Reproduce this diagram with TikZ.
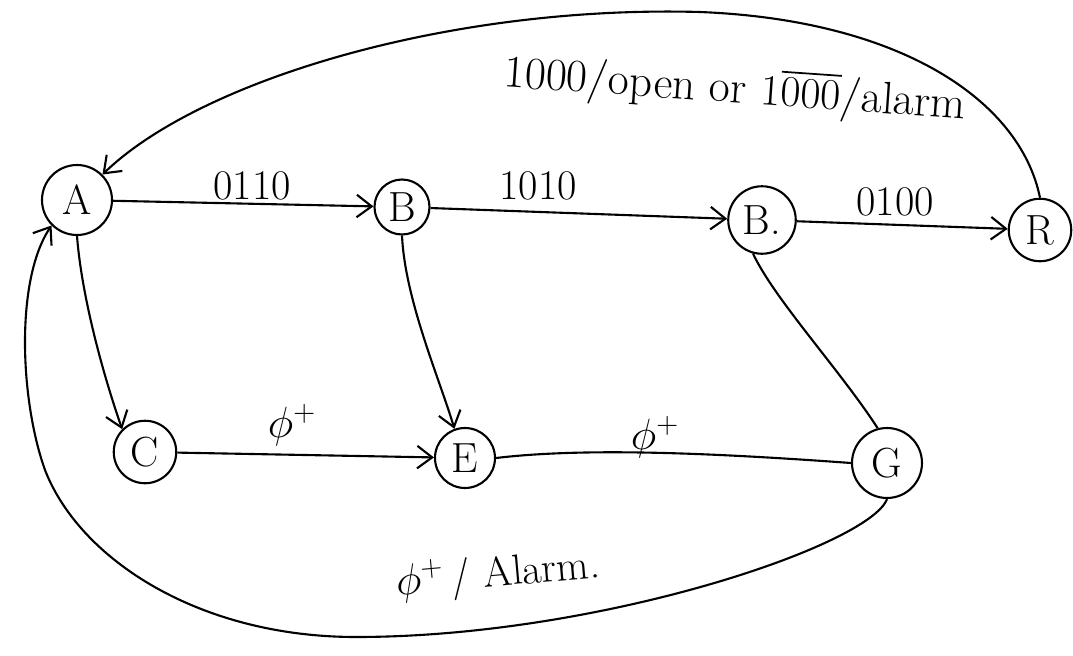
\documentclass[tikz,border=0pt]{standalone}
\usepackage{amsmath}
\usepackage{tikz}
\usetikzlibrary{arrows.meta}

\begin{document}
\begin{tikzpicture}[
  x=0.02cm, y=-0.02cm,
  every node/.style={font=\fontsize{24}{26}\selectfont},
  state/.style={draw, circle, line width=1.2pt, inner sep=0pt, minimum size=#1},
  state/.default=1.25cm,
  lbl/.style={inner sep=1pt},
  arrow/.style={-{Straight Barb[length=3mm,width=4.5mm]}, line width=1.2pt},
  wire/.style={line width=1.2pt}
]
\useasboundingbox (0,0) rectangle (1073,656);

\node[state=1.4cm] (A) at (77,200) {A};
\node[state=1.1cm] (B) at (402,207) {B};
\node[state=1.35cm] (Bp) at (762,220) {B.};
\node[state=1.25cm] (R) at (1040,230) {R};
\node[state=1.25cm] (C) at (145,452) {C};
\node[state=1.2cm] (E) at (465,458) {E};
\node[state=1.4cm] (G) at (887,463) {G};

\node[lbl] (lAB) at (252,186) {0110};
\node[lbl] (lBB) at (538,186) {1010};
\node[lbl] (lBR) at (895,202) {0100};
\node[lbl, font=\fontsize{26}{28}\selectfont, rotate=-4] (lRA) at (735,90) {1000/open or $1\overline{000}$/alarm};
\node[lbl] (lCE) at (292,425) {$\phi^{+}$};
\node[lbl] (lEG) at (655,437) {$\phi^{+}$};
\node[lbl, rotate=5] (lGA) at (498,575) {$\phi^{+}$\,/ Alarm.};

\coordinate (top) at (700,12);
\coordinate (bot) at (356,637);
\coordinate (left) at (45,470);

\draw[arrow] (A) -- (B);
\draw[arrow] (B) -- (Bp);
\draw[arrow] (Bp) -- (R);
\draw[arrow] (R.north) .. controls (1020,100) and (900,20) .. (top)
  .. controls (450,5) and (200,80) .. (A.north east);
\draw[arrow] (A.south) .. controls (82,300) and (105,380) .. (C.north west);
\draw[arrow] (B.south) .. controls (405,300) and (440,380) .. (E.110);
\draw[arrow] (C) -- (E);
\draw[wire] (E.east) .. controls (580,448) and (700,452) .. (G.west);
\draw[wire] (Bp.255) .. controls (775,300) and (840,370) .. (G.105);
\draw[arrow] (G.south) .. controls (870,545) and (600,637) .. (bot)
  .. controls (200,637) and (80,560) .. (left)
  .. controls (20,400) and (15,280) .. (A.south west);
\end{tikzpicture}
\end{document}
